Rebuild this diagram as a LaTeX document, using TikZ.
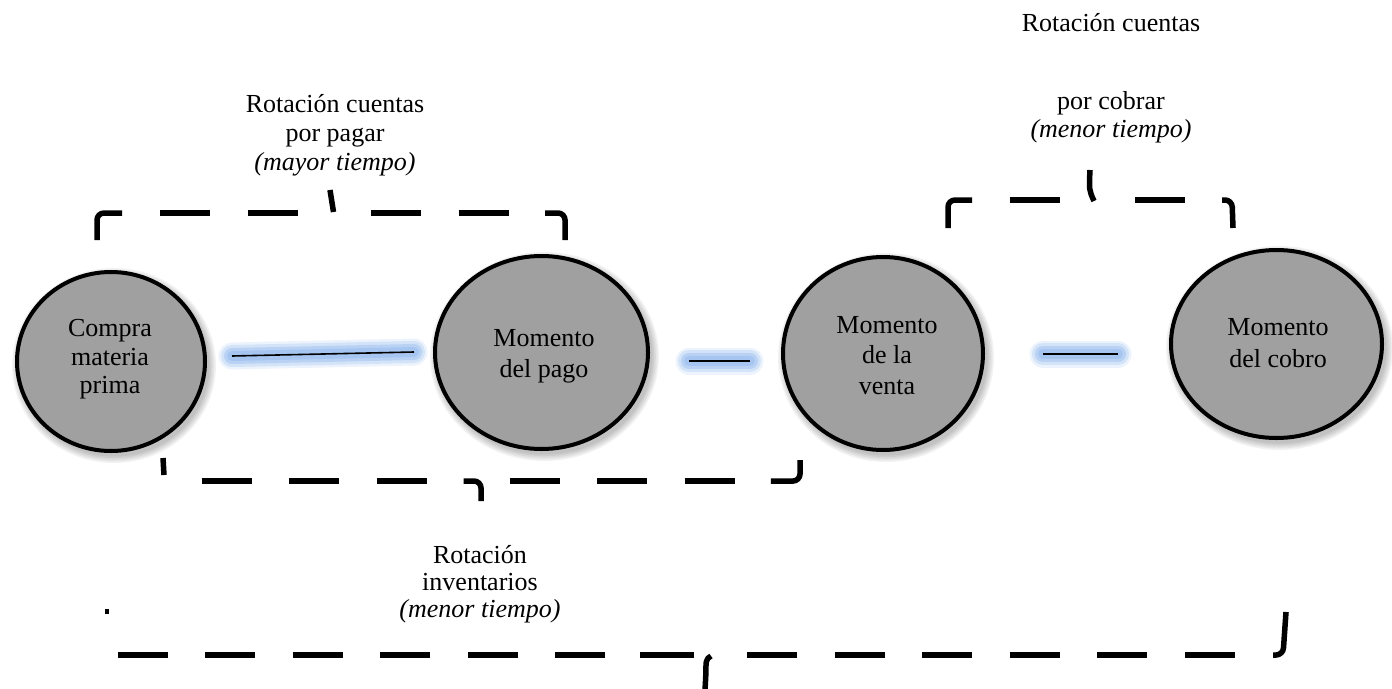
\documentclass[tikz,border=0pt]{standalone}
\usepackage{fontspec}
\setmainfont{Liberation Serif}
\usetikzlibrary{shapes.geometric}
\definecolor{discfill}{RGB}{160,160,160}
\definecolor{glowblue}{RGB}{125,172,235}

\newcommand\discshadow[4]{%
  \foreach \k in {1,...,5}{%
    \pgfmathsetmacro\sw{#3/2+1.6*\k}%
    \pgfmathsetmacro\sh{#4/2+1.6*\k}%
    \fill[black,opacity=0.05] (#1+3,#2+4) ellipse [x radius=\sw pt, y radius=\sh pt];
  }}
\newcommand\glowline[2]{%
  \draw[glowblue,line width=27pt,line cap=round,opacity=0.14] (#1) -- (#2);
  \draw[glowblue,line width=22pt,line cap=round,opacity=0.22] (#1) -- (#2);
  \draw[glowblue,line width=16pt,line cap=round,opacity=0.3] (#1) -- (#2);
  \draw[glowblue,line width=10pt,line cap=round,opacity=0.3] (#1) -- (#2);
  \draw[black,line width=1.6pt] (#1) -- (#2);}

\begin{document}
\begin{tikzpicture}[x=1pt,y=-1pt,
  disc/.style={ellipse, draw=black, line width=4pt, fill=discfill, inner sep=0pt},
  lbl/.style={anchor=base, inner sep=0pt, font=\fontsize{26}{30}\selectfont},
  ilbl/.style={anchor=base, inner sep=0pt, font=\fontsize{26}{30}\selectfont\itshape},
  brk/.style={line width=5.5pt, line cap=butt, rounded corners=7pt},
  brkdash/.style={brk, dash pattern=on 50pt off 37.5pt}]
\useasboundingbox (0,0) rectangle (1392,688);
\fill[white] (0,0) rectangle (1392,688);

% discs
\discshadow{111}{361.5}{188}{179}
\node[disc, minimum width=188pt, minimum height=179pt] (c1) at (111,361.5) {};
\discshadow{541.5}{352.5}{213}{193}
\node[disc, minimum width=213pt, minimum height=193pt] (c2) at (541.5,352.5) {};
\discshadow{883}{353.5}{200}{193}
\node[disc, minimum width=200pt, minimum height=193pt] (c3) at (883,353.5) {};
\discshadow{1276.5}{344}{211}{188}
\node[disc, minimum width=211pt, minimum height=188pt] (c4) at (1276.5,344) {};

\node[lbl] (t1a) at (110,336) {Compra};
\node[lbl] (t1b) at (110,365) {materia};
\node[lbl] (t1c) at (110,393) {prima};
\node[lbl] (t2a) at (544,346) {Momento};
\node[lbl] (t2b) at (544,377) {del pago};
\node[lbl] (t3a) at (887,333) {Momento};
\node[lbl] (t3b) at (887,363) {de la};
\node[lbl] (t3c) at (887,394) {venta};
\node[lbl] (t4a) at (1278,335) {Momento};
\node[lbl] (t4b) at (1278,367) {del cobro};

% glowing connectors
\coordinate (l1a) at (232,356); \coordinate (l1b) at (414,352);
\coordinate (l2a) at (689,361); \coordinate (l2b) at (750,361);
\coordinate (l3a) at (1043,354); \coordinate (l3b) at (1118,354);
\glowline{l1a}{l1b}
\glowline{l2a}{l2b}
\glowline{l3a}{l3b}

% labels
\node[lbl] (ra1) at (335,112) {Rotación cuentas};
\node[lbl] (ra2) at (335,141) {por pagar};
\node[ilbl] (ra3) at (335,170) {(mayor tiempo)};
\node[lbl] (rb1) at (1111,31) {Rotación cuentas};
\node[lbl] (rb2) at (1111,109) {por cobrar};
\node[ilbl] (rb3) at (1111,137) {(menor tiempo)};
\node[lbl] (ri1) at (480,563) {Rotación};
\node[lbl] (ri2) at (480,590) {inventarios};
\node[ilbl] (ri3) at (480,617) {(menor tiempo)};

% brace over Compra .. pago
\draw[brk] (97,240) -- (97,213) -- (122,213);
\draw[brkdash] (160,213) -- (300,213);
\draw[brk] (333.5,212) .. controls (331,201) .. (330,190);
\draw[brkdash] (371,213) -- (510,213);
\draw[brk] (545,213) -- (565,213) -- (565,240);

% brace over venta .. cobro
\draw[brk] (948,228) -- (948,200) -- (972,200);
\draw[brk] (1010,200) -- (1060,200);
\draw[brk] (1090,170) .. controls (1089,190) .. (1094,201);
\draw[brk] (1135,200) -- (1185,200);
\draw[brk] (1222,200) -- (1232,200) -- (1233,228);

% brace under Compra .. venta
\draw[brk] (163,458) -- (164,475);
\draw[brkdash] (201.6,481) -- (430,481);
\draw[brk] (463.6,481) -- (481,481) -- (481,501);
\draw[brkdash] (509.6,481) -- (736,481);
\draw[brk] (770.8,481) -- (800,481) -- (800,460);

% long brace
\draw[line width=3.5pt] (107,609) -- (107,614);
\draw[brkdash] (117.5,655) -- (610,655);
\draw[brk] (640,655) -- (694,655);
\draw[brk] (711,656) .. controls (706,658) and (706,664) .. (706,672) -- (705,690);
\draw[brkdash] (747,655) -- (1240,655);
\draw[brk] (1273,655) -- (1283,655) -- (1286,612);
\end{tikzpicture}
\end{document}
